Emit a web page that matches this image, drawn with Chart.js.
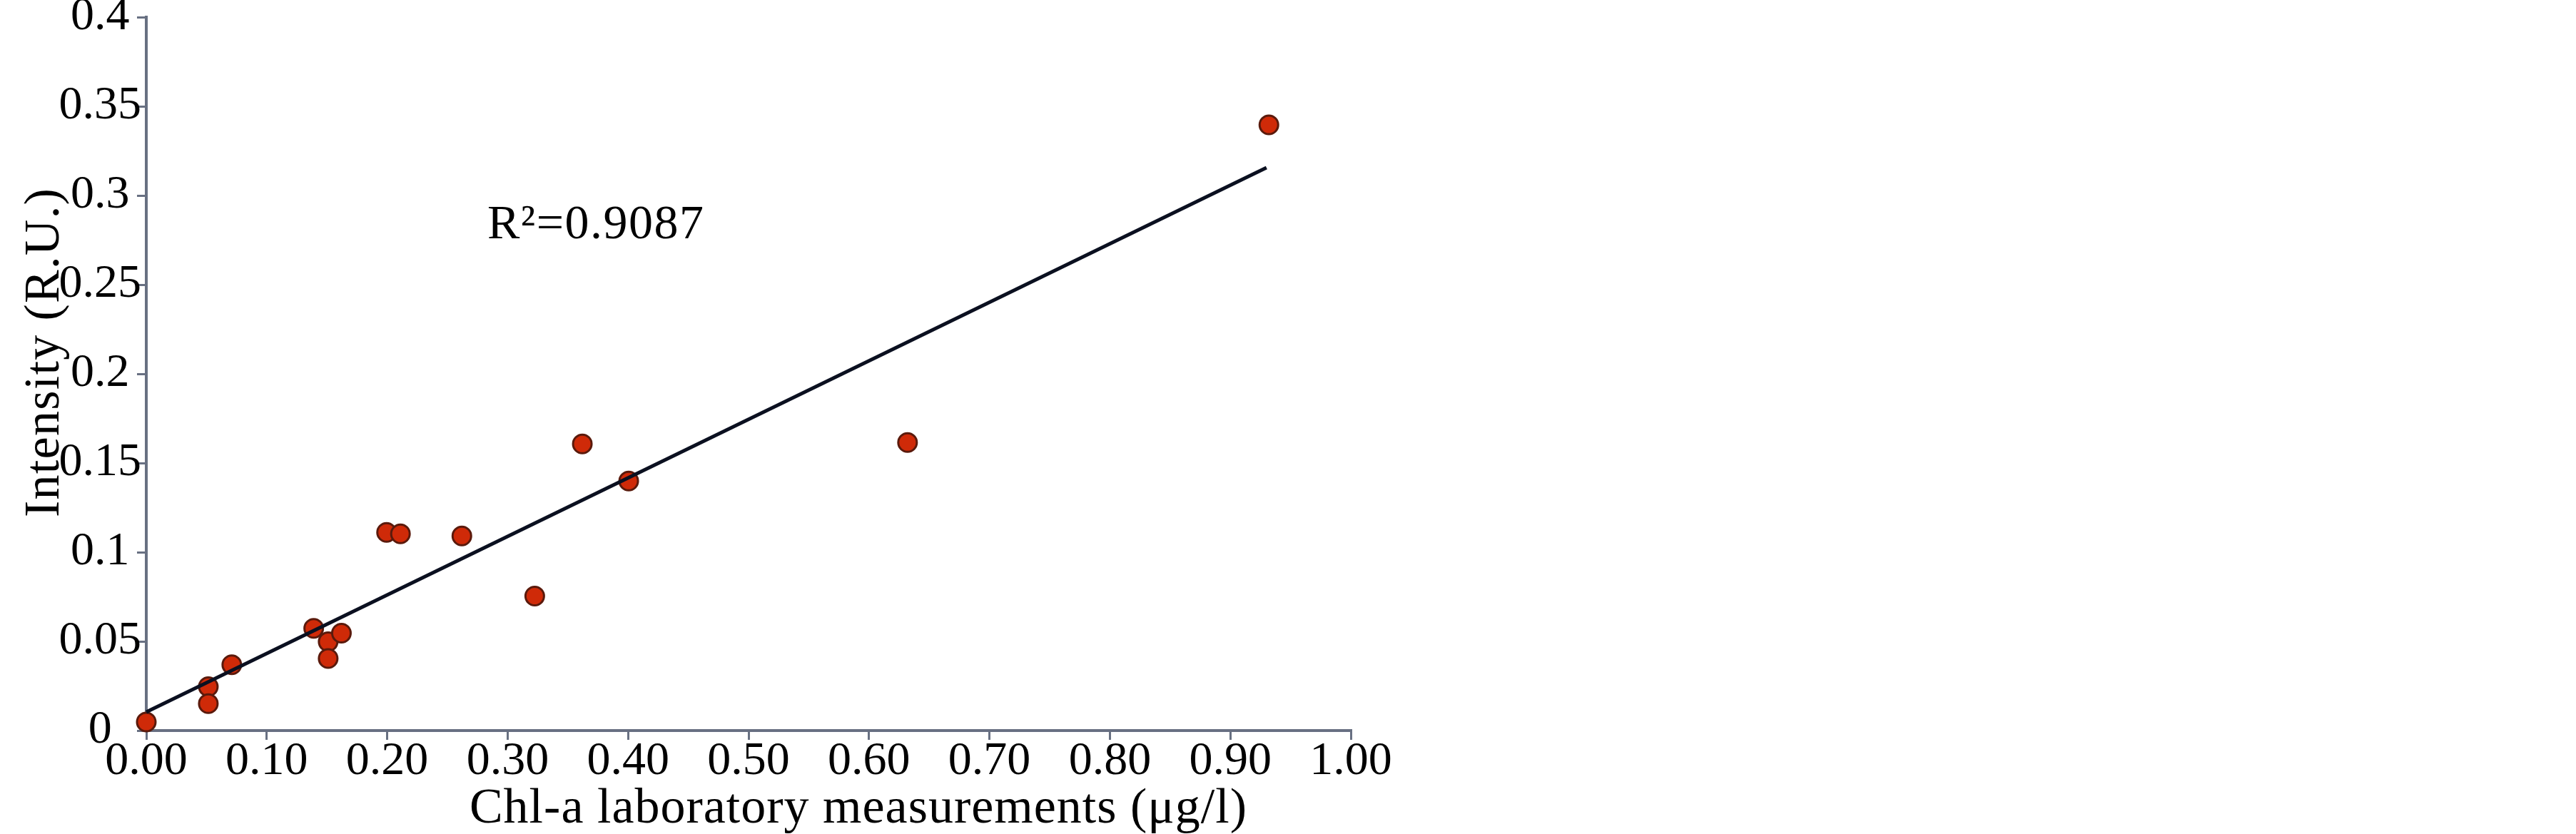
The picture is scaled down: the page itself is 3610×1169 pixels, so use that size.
<!DOCTYPE html>
<html>
<head>
<meta charset="utf-8">
<script src="https://cdn.jsdelivr.net/npm/chart.js@4.4.1/dist/chart.umd.min.js"></script>
<style>
  body { margin: 0; background: #fff; }
  #wrap { width: 3610px; height: 1169px; position: relative; }
</style>
</head>
<body>
<div id="wrap"><canvas id="myChart"></canvas></div>
<script>
// measured points (x: Chl-a lab, y: intensity)
const chlA = [0.000, 0.0515, 0.0515, 0.071, 0.139, 0.151, 0.151, 0.162, 0.1995, 0.211, 0.262, 0.3225, 0.362, 0.4005, 0.632, 0.932];
const intensity = [0.0048, 0.0246, 0.0151, 0.0369, 0.0573, 0.0498, 0.0404, 0.0546, 0.1111, 0.1103, 0.1091, 0.0754, 0.1607, 0.1399, 0.1615, 0.3396];

// fitted line end points as drawn in the figure
const trendX = [0, 0.93];
const trendY = [0.0104, 0.3156];

const xTickLabels = ['0.00','0.10','0.20','0.30','0.40','0.50','0.60','0.70','0.80','0.90','1.00'];
const yTickLabels = ['0','0.05','0.1','0.15','0.2','0.25','0.3','0.35','0.4'];

const xTitle = 'Chl-a laboratory measurements (\u03bcg/l)';
const yTitle = 'Intensity (R.U.)';
const r2Text = 'R\u00b2=0.9087';

const serif = "'Liberation Serif', 'Times New Roman', serif";
const axisColor = '#687082';

const textPlugin = {
  id: 'textPlugin',
  afterDraw(chart) {
    const c = chart.ctx;
    c.save();
    c.fillStyle = '#000';
    // x title
    c.font = '70px ' + serif;
    c.letterSpacing = '1px';
    c.textAlign = 'center';
    c.textBaseline = 'alphabetic';
    c.fillText(xTitle, 1203, 1153);
    // y title (rotated)
    c.save();
    c.translate(82, 494);
    c.rotate(-Math.PI / 2);
    c.letterSpacing = '1.3px';
    c.fillText(yTitle, 0, 0);
    c.restore();
    // R squared
    c.font = '68px ' + serif;
    c.letterSpacing = '1.5px';
    c.textAlign = 'left';
    c.fillText(r2Text, 683, 334);
    c.restore();
  }
};

const ctx = document.getElementById('myChart');
const myChart = new Chart(ctx, {
  type: 'scatter',
  data: {
    datasets: [
      {
        label: 'Fit',
        data: trendX.map((x, i) => ({ x: x, y: trendY[i] })),
        showLine: true,
        borderColor: '#0b1020',
        borderWidth: 5,
        pointRadius: 0,
        clip: false
      },
      {
        label: 'Samples',
        data: chlA.map((x, i) => ({ x: x, y: intensity[i] })),
        backgroundColor: '#cf2a08',
        borderColor: '#5a1a0c',
        borderWidth: 3,
        pointRadius: 13,
        clip: false
      }
    ]
  },
  options: {
    responsive: true,
    maintainAspectRatio: false,
    animation: false,
    layout: { padding: { left: 0, right: 1717, top: 24, bottom: 0 } },
    plugins: {
      legend: { display: false },
      tooltip: { enabled: false }
    },
    scales: {
      x: {
        type: 'linear',
        min: 0,
        max: 1,
        border: { display: true, color: axisColor, width: 4 },
        grid: { drawOnChartArea: false, drawTicks: true, tickLength: 13, color: axisColor, lineWidth: 3 },
        ticks: {
          stepSize: 0.1,
          autoSkip: false,
          maxRotation: 0,
          padding: -2,
          color: '#000',
          font: { family: serif, size: 66, lineHeight: 1 },
          callback: (v, i) => xTickLabels[i]
        },
        afterFit: (s) => { s.height = 145; s.paddingLeft = 0; s.paddingRight = 0; }
      },
      y: {
        type: 'linear',
        min: 0,
        max: 0.4,
        border: { display: true, color: axisColor, width: 4 },
        grid: { drawOnChartArea: false, drawTicks: true, tickLength: 13, color: axisColor, lineWidth: 3 },
        ticks: {
          stepSize: 0.05,
          crossAlign: 'center',
          padding: -6,
          color: '#000',
          font: { family: serif, size: 66, lineHeight: 1 },
          callback: (v, i) => yTickLabels[i]
        },
        afterFit: (s) => { s.width = 205; s.paddingTop = 0; s.paddingBottom = 0; }
      }
    }
  },
  plugins: [textPlugin]
});
</script>
</body>
</html>
